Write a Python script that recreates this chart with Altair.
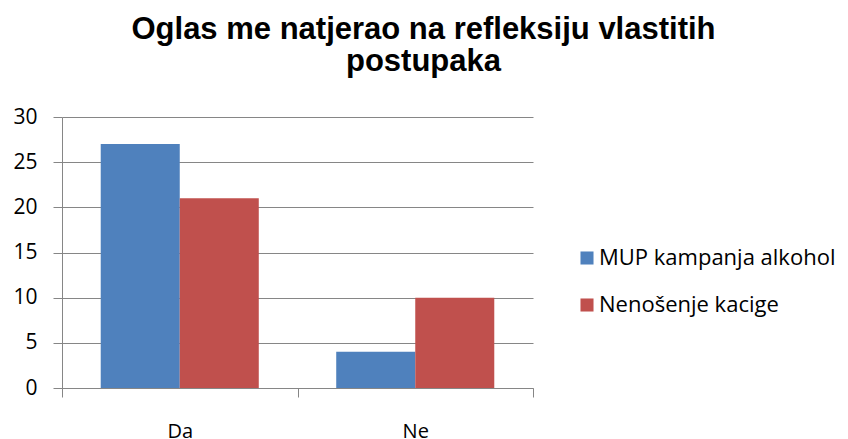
import altair as alt
import pandas as pd

categories = ["Da", "Ne"]
series = ["MUP kampanja alkohol", "Nenošenje kacige"]
mup_values = [27, 4]
kaciga_values = [21, 10]
colors = ["#4F81BD", "#C0504D"]

rows = []
for i, c in enumerate(categories):
    rows.append({"odgovor": c, "serija": series[0], "vrijednost": mup_values[i]})
    rows.append({"odgovor": c, "serija": series[1], "vrijednost": kaciga_values[i]})
df = pd.DataFrame(rows)

font = "Open Sans"
grey = "#868686"

chart = alt.Chart(df).mark_bar().encode(
    x=alt.X("odgovor:N", sort=categories, title=None,
            scale=alt.Scale(paddingInner=0, paddingOuter=0),
            axis=alt.Axis(labelAngle=0, tickBand="extent", domainColor=grey, tickColor=grey,
                          tickSize=9, labelFont=font, labelFontSize=20, labelColor="#000",
                          labelPadding=24, grid=False)),
    xOffset=alt.XOffset("serija:N", sort=series,
                        scale=alt.Scale(paddingInner=0, paddingOuter=0.49)),
    y=alt.Y("vrijednost:Q", title=None,
            scale=alt.Scale(domain=[0, 30], nice=False),
            axis=alt.Axis(values=[0, 5, 10, 15, 20, 25, 30], domainColor=grey, tickColor=grey,
                          gridColor=grey, tickSize=9, labelFont=font, labelFontSize=21,
                          labelColor="#000", labelPadding=16)),
    color=alt.Color("serija:N", sort=series, title=None,
                    scale=alt.Scale(domain=series, range=colors),
                    legend=alt.Legend(orient="none", legendX=514, legendY=130,
                                      symbolType="square", symbolSize=170,
                                      symbolStrokeWidth=0,
                                      labelFont=font, labelFontSize=22, labelColor="#000",
                                      rowPadding=25, labelOffset=1, labelLimit=400)),
).properties(
    width=471,
    height=271,
    title=alt.TitleParams(
        text=["Oglas me natjerao na refleksiju vlastitih", "postupaka"],
        font="Liberation Sans", fontSize=31, fontWeight="bold", color="#000",
        anchor="middle", frame="group", dx=126, offset=28, lineHeight=32, limit=800,
    ),
    padding={"left": 54, "top": 109, "right": 307, "bottom": 50},
    autosize=alt.AutoSizeParams(type="none"),
).configure_view(stroke=None)

chart.save("out.html", embed_options={"renderer": "svg", "actions": False})
